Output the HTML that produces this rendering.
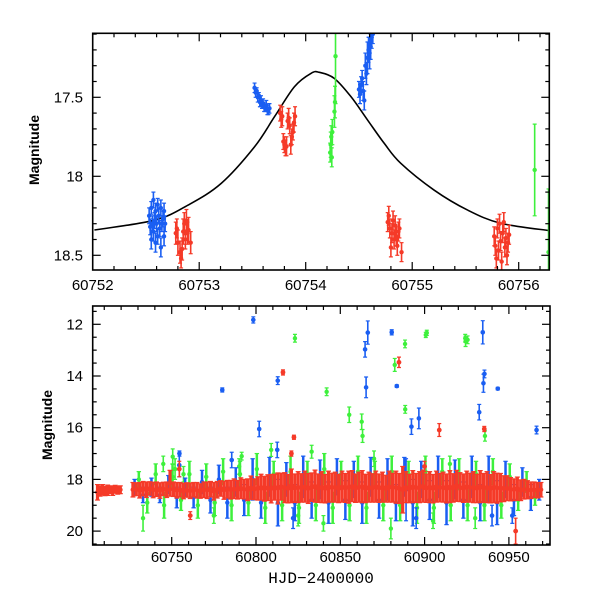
<!DOCTYPE html>
<html><head><meta charset="utf-8"><style>
html,body{margin:0;padding:0;background:#fff}
svg text{font-family:"Liberation Sans",Arial,sans-serif}
</style></head><body>
<svg id="chart" width="600" height="600" viewBox="0 0 600 600" xmlns="http://www.w3.org/2000/svg">
<defs>
<clipPath id="clipTop"><rect x="92.7" y="33.3" width="456.6" height="236.7"/></clipPath>
<clipPath id="clipBot"><rect x="92.7" y="306" width="457.3" height="239"/></clipPath>
</defs>
<g id="topPanel"></g>
<g id="botPanel"></g>
</svg>
<script>
// ---- top panel data ----
const curveT=[60752.016,60752.583,60752.896,60753.208,60753.520,60753.707,60753.894,60754.051,60754.128,60754.268,60754.425,60754.581,60754.737,60754.893,60755.205,60755.518,60755.830,60756.291];
const curveMag=[18.34,18.277,18.182,18.044,17.813,17.623,17.433,17.348,17.342,17.380,17.496,17.644,17.791,17.918,18.087,18.213,18.297,18.344];
const topGreenT=[60754.23,60754.235,60754.24,60754.245,60754.25,60754.27,60754.275,60754.28,60756.15,60756.28];
const topGreenMag=[17.85,17.80,17.75,17.88,17.72,17.59,17.53,17.24,17.96,18.48];
const topGreenErr=[0.06,0.08,0.07,0.06,0.08,0.1,0.1,0.3,0.29,0.4];
const topBlueT=[60752.53,60752.54,60752.55,60752.55,60752.56,60752.57,60752.57,60752.58,60752.59,60752.59,60752.60,60752.61,60752.61,60752.62,60752.63,60752.64,60752.64,60752.65,60752.66,60752.67,60752.67,60752.68,
60753.52,60753.53,60753.54,60753.55,60753.56,60753.57,60753.58,60753.59,60753.60,60753.61,60753.62,60753.63,60753.64,60753.65,60753.66,
60754.50,60754.51,60754.52,60754.53,60754.54,60754.55,60754.56,60754.57,60754.58,60754.59,60754.60,60754.61,60754.62,60754.63];
const topBlueMag=[18.25,18.32,18.20,18.40,18.30,18.15,18.35,18.28,18.42,18.22,18.30,18.38,18.18,18.25,18.33,18.45,18.20,18.30,18.27,18.38,18.22,18.30,
17.44,17.47,17.46,17.50,17.49,17.53,17.52,17.55,17.54,17.56,17.57,17.55,17.58,17.59,17.57,
17.45,17.48,17.42,17.38,17.46,17.52,17.30,17.35,17.25,17.20,17.22,17.18,17.12,17.10];
const topBlueErr=[0.05,0.05,0.04,0.06,0.05,0.05,0.06,0.05,0.06,0.05,0.05,0.05,0.04,0.05,0.05,0.06,0.05,0.05,0.05,0.06,0.05,0.05,
0.03,0.03,0.02,0.03,0.02,0.03,0.03,0.02,0.03,0.03,0.02,0.03,0.03,0.02,0.03,
0.05,0.06,0.05,0.05,0.06,0.06,0.08,0.07,0.1,0.08,0.1,0.08,0.07,0.06];
const topRedT=[60752.78,60752.79,60752.80,60752.82,60752.83,60752.84,60752.85,60752.86,60752.87,60752.88,60752.89,60752.90,60752.92,
60753.76,60753.77,60753.78,60753.79,60753.80,60753.81,60753.82,60753.83,60753.84,60753.85,60753.86,60753.87,60753.88,60753.89,60753.90,
60754.77,60754.78,60754.79,60754.80,60754.81,60754.82,60754.83,60754.84,60754.85,60754.86,60754.87,60754.88,60754.90,
60755.77,60755.78,60755.79,60755.80,60755.81,60755.82,60755.83,60755.84,60755.85,60755.86,60755.87,60755.88,60755.89,60755.90,60755.91];
const topRedMag=[18.36,18.33,18.42,18.48,18.52,18.46,18.35,18.30,18.40,18.28,18.36,18.34,18.42,
17.60,17.64,17.62,17.78,17.80,17.82,17.81,17.65,17.63,17.68,17.80,17.75,17.72,17.66,17.62,
18.29,18.25,18.33,18.45,18.36,18.28,18.40,18.31,18.38,18.44,18.35,18.33,18.48,
18.38,18.44,18.52,18.33,18.47,18.30,18.41,18.54,18.36,18.29,18.45,18.39,18.50,18.42,18.37];
const topRedErr=[0.07,0.06,0.08,0.07,0.06,0.07,0.08,0.07,0.06,0.07,0.07,0.08,0.07,
0.05,0.05,0.06,0.05,0.05,0.05,0.06,0.05,0.06,0.05,0.06,0.05,0.05,0.06,0.06,
0.06,0.06,0.06,0.06,0.06,0.06,0.06,0.06,0.06,0.06,0.06,0.06,0.06,
0.06,0.06,0.06,0.06,0.06,0.06,0.06,0.06,0.06,0.06,0.06,0.06,0.06,0.06,0.06];

// ---- bottom panel data ----
const redT=[60706,60707.5,60709,60710.5,60712,60713.5,60715,60716.5,60718,60719.5,
60727,60729,60731,60733,60735,60737,60739,60741,60743,60745,
60747,60749,60751,60753,60755,60757,60759,60761,60763,60765,
60767,60769,60771,60773,60775,60777,60779,60781,60783,60785,
60787,60789,60791,60793,60795,60797,60799,60801,60803,60805,
60807,60809,60811,60813,60815,60817,60819,60821,60823,60825,
60827,60829,60831,60833,60835,60837,60839,60841,60843,60845,
60847,60849,60851,60853,60855,60857,60859,60861,60863,60865,
60867,60869,60871,60873,60875,60877,60879,60881,60883,60885,
60887,60889,60891,60893,60895,60897,60899,60901,60903,60905,
60907,60909,60911,60913,60915,60917,60919,60921,60923,60925,
60927,60929,60931,60933,60935,60937,60939,60941,60943,60945,
60947,60949,60951,60953,60955,60957,60959,60961,60963,60965,
60967,60969];
const redMag=[18.5,18.45,18.4,18.45,18.42,18.4,18.44,18.38,18.42,18.4,
18.40,18.38,18.42,18.36,18.40,18.35,18.41,18.38,18.43,18.37,
18.40,18.15,18.38,18.42,18.40,18.45,18.41,18.44,18.40,18.42,
18.45,18.40,18.42,18.38,18.46,18.40,18.35,18.42,18.38,18.40,
18.36,18.40,18.34,18.38,18.40,18.32,18.38,18.35,18.30,18.36,
18.32,18.36,18.30,18.35,18.28,18.32,18.36,18.25,18.34,18.30,
18.33,18.28,18.35,18.30,18.26,18.34,18.30,18.36,18.28,18.32,
18.30,18.35,18.28,18.33,18.30,18.26,18.34,18.30,18.28,18.35,
18.30,18.33,18.28,18.34,18.30,18.36,18.28,18.32,18.30,18.35,
18.40,18.30,18.35,18.28,18.33,18.30,18.26,18.34,18.30,18.36,
18.28,18.32,18.30,18.35,18.28,18.33,18.25,18.30,18.34,18.28,
18.32,18.30,18.35,18.28,18.33,18.30,18.36,18.30,18.34,18.32,
18.36,18.34,18.38,18.40,18.36,18.42,18.38,18.40,18.42,18.40,
18.42,18.40];
const redErr=[0.3,0.2,0.2,0.18,0.2,0.15,0.18,0.15,0.15,0.15,
0.28,0.25,0.3,0.28,0.3,0.26,0.3,0.28,0.3,0.26,
0.3,0.5,0.28,0.3,0.28,0.3,0.28,0.3,0.28,0.3,
0.28,0.3,0.32,0.3,0.34,0.32,0.3,0.35,0.34,0.36,
0.38,0.36,0.4,0.38,0.42,0.45,0.4,0.45,0.5,0.48,
0.5,0.55,0.5,0.6,0.52,0.58,0.55,0.65,0.55,0.6,
0.55,0.6,0.58,0.55,0.62,0.55,0.6,0.55,0.6,0.56,
0.58,0.55,0.6,0.56,0.62,0.6,0.55,0.58,0.62,0.55,
0.58,0.55,0.6,0.55,0.58,0.52,0.6,0.56,0.62,0.58,
0.9,0.6,0.55,0.62,0.56,0.6,0.62,0.55,0.6,0.55,
0.6,0.55,0.58,0.56,0.62,0.55,0.6,0.56,0.55,0.6,
0.56,0.6,0.55,0.62,0.56,0.6,0.55,0.6,0.58,0.55,
0.5,0.48,0.45,0.42,0.45,0.4,0.38,0.35,0.32,0.3,
0.3,0.28];
const redOutT=[60761,60816,60822.5,60821,60884.8,60908.7,60935.4,60954,60900,60754.5];
const redOutMag=[19.4,13.86,16.37,17.0,13.47,16.09,16.05,20.0,17.5,17.6];
const redOutErr=[0.15,0.1,0.08,0.1,0.2,0.25,0.1,0.5,0.2,0.3];

const blueT=[60728,60733,60738,60743,60748,60753,60758,60763,60768,60773,
60778,60783,60788,60793,60798,60803,60808,60813,60818,60823,
60828,60833,60838,60843,60848,60853,60858,60863,60868,60873,
60878,60883,60888,60893,60898,60903,60908,60913,60918,60923,
60928,60933,60938,60943,60948,60953,60958,60963,60968];
const blueMag=[18.3,18.6,18.3,18.6,18.2,18.7,18.3,18.7,18.1,18.8,
18.0,18.9,18.1,18.8,18.0,18.9,17.9,18.9,18.0,18.9,
17.9,18.8,18.0,18.9,17.9,18.8,18.0,18.9,17.9,18.8,
18.0,18.9,17.9,18.9,18.0,18.8,17.9,18.9,18.0,18.8,
17.9,18.9,18.0,18.9,18.0,18.8,18.1,18.7,18.4];
const blueErr=[0.3,0.3,0.35,0.3,0.35,0.4,0.35,0.4,0.45,0.5,
0.55,0.6,0.55,0.6,0.8,0.6,0.75,0.9,0.65,0.7,
0.8,0.7,0.75,0.8,0.7,0.75,0.7,0.8,0.75,0.7,
0.8,0.7,0.75,0.9,0.7,0.75,0.8,0.85,0.75,0.7,
0.8,0.7,0.9,0.85,0.7,0.6,0.55,0.5,0.4];
const blueOutT=[60780.0,60798.4,60812.9,60864.7,60866.3,60865.3,60880.5,60883.5,60934.5,60934.9,60935.5,60943.4,60801.9,60754.5,60754.6,60812.6,60785.6,60892.2,60896.6,60932.4,60966.4,60822,60889,60895,60940,60952];
const blueOutMag=[14.54,11.83,14.18,12.97,12.32,14.44,12.31,14.39,12.31,14.28,13.92,14.49,16.05,17.45,17.0,16.86,17.25,15.96,15.64,15.4,16.09,19.5,18.4,19.5,19.4,19.4];
const blueOutErr=[0.08,0.12,0.15,0.3,0.45,0.4,0.1,0.05,0.45,0.35,0.15,0.05,0.3,0.45,0.1,0.3,0.3,0.3,0.4,0.3,0.15,0.4,1.2,0.4,0.4,0.3];

const greenT=[60730.5,60735.5,60740.5,60745.5,60750.5,60755.5,60760.5,60765.5,60770.5,60775.5,
60780.5,60785.5,60790.5,60795.5,60800.5,60805.5,60810.5,60815.5,60820.5,60825.5,
60830.5,60835.5,60840.5,60845.5,60850.5,60855.5,60860.5,60865.5,60870.5,60875.5,
60880.5,60885.5,60890.5,60895.5,60900.5,60905.5,60910.5,60915.5,60920.5,60925.5,
60930.5,60935.5,60940.5,60945.5,60950.5,60955.5,60960.5,60965.5];
const greenMag=[18.0,18.9,17.8,19.0,17.9,18.8,17.8,19.0,17.9,18.9,
17.7,19.0,17.8,18.9,17.6,19.1,17.8,19.0,17.7,19.1,
17.8,19.0,17.6,19.1,17.8,19.0,17.7,19.1,17.8,19.0,
17.7,19.0,17.8,19.1,17.7,19.1,17.7,19.0,17.8,19.0,
17.8,19.0,17.7,19.0,17.9,18.8,18.1,18.7];
const greenErr=[0.3,0.4,0.4,0.5,0.5,0.4,0.5,0.5,0.5,0.5,
0.5,0.6,0.5,0.5,0.6,0.6,0.5,0.6,0.6,0.6,
0.5,0.6,0.6,0.6,0.5,0.6,0.6,0.6,0.5,0.6,
0.6,0.6,0.5,0.6,0.6,0.6,0.5,0.6,0.6,0.6,
0.5,0.6,0.5,0.5,0.5,0.4,0.4,0.3];
const greenOutT=[60823.1,60841.9,60882.3,60888.4,60900.7,60901.3,60924.1,60924.3,60925.5,60750.6,60791.5,60809,60833,60855.3,60862.7,60863.2,60888.5,60935.8,60733,60745,60757,60775,60790,60825,60840,60870,60880,60905,60915,60930,60752];
const greenOutMag=[12.54,14.61,13.57,12.76,12.41,12.33,12.54,12.66,12.6,17.12,17.1,16.86,16.93,15.5,15.77,16.32,15.29,16.32,19.5,17.4,17.8,19.4,17.5,19.4,19.7,17.2,19.9,19.6,17.4,19.5,17.6];
const greenOutErr=[0.15,0.15,0.25,0.15,0.1,0.1,0.15,0.2,0.15,0.3,0.15,0.25,0.25,0.3,0.3,0.25,0.15,0.2,0.5,0.3,0.3,0.3,0.3,0.4,0.3,0.3,0.4,0.3,0.3,0.4,0.4];

const xTopTicks=[60752,60753,60754,60755,60756];
const yTopTicks=[17.5,18,18.5];
const xBotTicks=[60750,60800,60850,60900,60950];
const yBotTicks=[12,14,16,18,20];

const NS='http://www.w3.org/2000/svg';
const BLUE='#1a5ef2',RED='#f53a28',GREEN='#3ef03c';
function mk(tag,attrs,parent){const e=document.createElementNS(NS,tag);for(const k in attrs)e.setAttribute(k,attrs[k]);parent.appendChild(e);return e;}

const TX0=92.7,TX1=549.3,TY0=33.3,TY1=270;
const xTop=t=>92.7+(t-60752)*106.5;
const yTop=m=>97.3+(m-17.5)*158;
const BX0=92.7,BX1=550,BY0=306,BY1=545;
const xBot=t=>171.7+(t-60750)*1.686;
const yBot=m=>324.3+(m-12)*25.85;

function drawPts(parent,T,M,E,xf,yf,color,name,cap,lw,r){
  for(let i=0;i<T.length;i++){
    const x=xf(T[i]),y=yf(M[i]),y1=yf(M[i]-E[i]),y2=yf(M[i]+E[i]);
    const g=mk('g',{},parent);
    
    
    mk('line',{x1:x,x2:x,y1:y1,y2:y2,stroke:color,'stroke-width':lw},g);
    mk('line',{x1:x-cap,x2:x+cap,y1:y1,y2:y1,stroke:color,'stroke-width':1.2},g);
    mk('line',{x1:x-cap,x2:x+cap,y1:y2,y2:y2,stroke:color,'stroke-width':1.2},g);
    mk('circle',{cx:x,cy:y,r:r,fill:color},g);
  }
}
function frame(parent,x0,y0,x1,y1,name){
  const r=mk('rect',{x:x0,y:y0,width:x1-x0,height:y1-y0,fill:'none',stroke:'#000','stroke-width':1.6},parent);
  
  
}

// ===== top panel =====
const topG=document.getElementById('topPanel');
const tdata=mk('g',{'clip-path':'url(#clipTop)'},topG);
{
  const P=curveT.map((t,i)=>[xTop(t),yTop(curveMag[i])]);
  let d='M'+P[0][0]+','+P[0][1];
  for(let i=0;i<P.length-1;i++){
    const p0=P[Math.max(0,i-1)],p1=P[i],p2=P[i+1],p3=P[Math.min(P.length-1,i+2)];
    const c1=[p1[0]+(p2[0]-p0[0])/6,p1[1]+(p2[1]-p0[1])/6];
    const c2=[p2[0]-(p3[0]-p1[0])/6,p2[1]-(p3[1]-p1[1])/6];
    d+=' C'+c1[0]+','+c1[1]+' '+c2[0]+','+c2[1]+' '+p2[0]+','+p2[1];
  }
  const c=mk('path',{d:d,fill:'none',stroke:'#000','stroke-width':1.6},tdata);
  
  
}
drawPts(tdata,topGreenT,topGreenMag,topGreenErr,xTop,yTop,GREEN,'green-point',2,1.6,2.2);
drawPts(tdata,topBlueT,topBlueMag,topBlueErr,xTop,yTop,BLUE,'blue-point',2,1.6,2.2);
drawPts(tdata,topRedT,topRedMag,topRedErr,xTop,yTop,RED,'red-point',2,1.6,2.2);
frame(topG,TX0,TY0,TX1,TY1,'top-frame');
for(let k=0;k<=22;k++){
  const t=60752+k*0.2; const x=xTop(t); if(x<TX0-0.5||x>TX1) continue;
  const major=k%5===0, L=major?8:4;
  mk('line',{x1:x,x2:x,y1:TY1,y2:TY1-L,stroke:'#000','stroke-width':1.2},topG);
  mk('line',{x1:x,x2:x,y1:TY0,y2:TY0+L,stroke:'#000','stroke-width':1.2},topG);
}
for(let k=0;k<=16;k++){
  const m=17.1+k*0.1; const y=yTop(m); if(y<TY0||y>TY1) continue;
  const major=Math.abs(m*2-Math.round(m*2))<1e-6, L=major?8:4;
  mk('line',{x1:TX0,x2:TX0+L,y1:y,y2:y,stroke:'#000','stroke-width':1.2},topG);
  mk('line',{x1:TX1,x2:TX1-L,y1:y,y2:y,stroke:'#000','stroke-width':1.2},topG);
}
xTopTicks.forEach(t=>{
  const e=mk('text',{x:xTop(t),y:290,'text-anchor':'middle','font-size':15},topG);e.textContent=String(t);
  
  
});
yTopTicks.forEach(m=>{
  const e=mk('text',{x:83,y:yTop(m)+5,'text-anchor':'end','font-size':15},topG);e.textContent=String(m);
  
  
});
{
  const e=mk('text',{x:0,y:0,'text-anchor':'middle','font-size':14,'font-weight':'bold',transform:'translate(39,150) rotate(-90)'},topG);
  e.textContent='Magnitude';
  
  
}

// ===== bottom panel =====
const botG=document.getElementById('botPanel');
const bdata=mk('g',{'clip-path':'url(#clipBot)'},botG);
drawPts(bdata,greenT,greenMag,greenErr,xBot,yBot,GREEN,'green-point',2.2,2.5,2.2);
drawPts(bdata,greenOutT,greenOutMag,greenOutErr,xBot,yBot,GREEN,'green-point',2,1.6,2.2);
drawPts(bdata,blueT,blueMag,blueErr,xBot,yBot,BLUE,'blue-point',2.2,2.5,2.2);
drawPts(bdata,blueOutT,blueOutMag,blueOutErr,xBot,yBot,BLUE,'blue-point',2,1.6,2.3);
drawPts(bdata,redT,redMag,redErr,xBot,yBot,RED,'red-point',2.5,3.2,2.4);
drawPts(bdata,redOutT,redOutMag,redOutErr,xBot,yBot,RED,'red-point',2,1.6,2.4);
frame(botG,BX0,BY0,BX1,BY1,'bottom-frame');
for(let t=60710;t<=60970;t+=10){
  const x=xBot(t); const major=t%50===0, L=major?8:4;
  mk('line',{x1:x,x2:x,y1:BY1,y2:BY1-L,stroke:'#000','stroke-width':1.2},botG);
  mk('line',{x1:x,x2:x,y1:BY0,y2:BY0+L,stroke:'#000','stroke-width':1.2},botG);
}
for(let k=0;k<=18;k++){
  const m=11.5+k*0.5; const y=yBot(m); if(y<BY0||y>BY1) continue;
  const major=Math.abs(m/2-Math.round(m/2))<1e-6, L=major?8:4;
  mk('line',{x1:BX0,x2:BX0+L,y1:y,y2:y,stroke:'#000','stroke-width':1.2},botG);
  mk('line',{x1:BX1,x2:BX1-L,y1:y,y2:y,stroke:'#000','stroke-width':1.2},botG);
}
xBotTicks.forEach(t=>{
  const e=mk('text',{x:xBot(t),y:562,'text-anchor':'middle','font-size':15},botG);e.textContent=String(t);
  
  
});
yBotTicks.forEach(m=>{
  const e=mk('text',{x:83,y:yBot(m)+5,'text-anchor':'end','font-size':15},botG);e.textContent=String(m);
  
  
});
{
  const e=mk('text',{x:0,y:0,'text-anchor':'middle','font-size':14,'font-weight':'bold',transform:'translate(52,425) rotate(-90)'},botG);
  e.textContent='Magnitude';
  
  
  const xt=mk('text',{x:321,y:583,'text-anchor':'middle','font-size':16,style:'font-family:"Liberation Mono",monospace'},botG);
  xt.textContent='HJD\u22122400000';
  
  
}
</script>
</body></html>
